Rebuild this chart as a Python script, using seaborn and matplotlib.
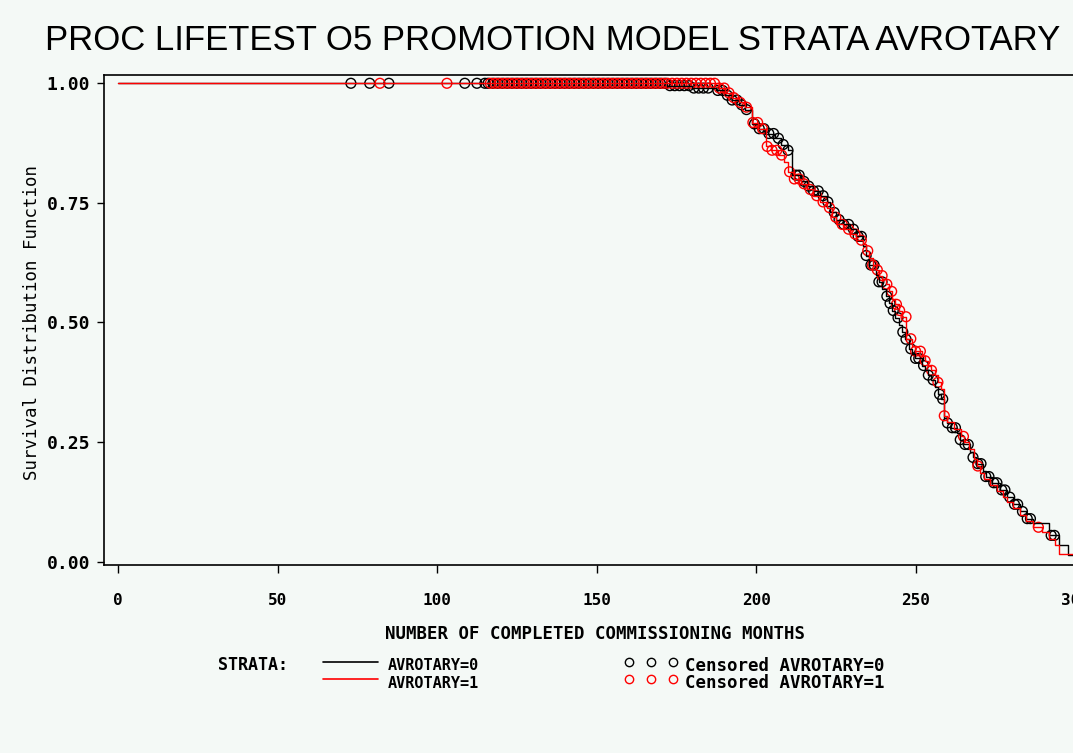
import matplotlib
matplotlib.use('Agg')
import matplotlib.pyplot as plt
from matplotlib.lines import Line2D
import seaborn as sns
import numpy as np
import pandas as pd

# Kaplan-Meier steps: event time (months) and survival after it
t0 = [0, 172, 180, 187.4, 190.4, 192.5, 194.5, 196.6, 198.6, 200.7, 202.7, 205.8, 207.8, 209.9,
      211.4, 214, 216, 218, 220, 222.2, 223.2, 225.2, 227.3, 229.3, 231.4, 233.4, 234.5, 235.5,
      237.5, 238.5, 239.6, 240.6, 241.6, 242.6, 243.7, 244.7, 245.7, 246.7, 247.8, 248.8, 249.8,
      251.9, 252.9, 253.9, 254.9, 256, 257, 258, 259, 260, 261, 263, 264, 265, 267, 268, 269, 271,
      272, 274, 276.4, 278.5, 280.5, 282.6, 284.6, 286.7, 291.8, 294.9, 297.9, 312]
s0 = [1.0, 0.995, 0.99, 0.985, 0.975, 0.965, 0.955, 0.945, 0.915, 0.905, 0.895, 0.885, 0.872, 0.86,
      0.808, 0.795, 0.785, 0.775, 0.765, 0.752, 0.73, 0.715, 0.705, 0.695, 0.68, 0.66, 0.64, 0.62,
      0.6, 0.585, 0.57, 0.555, 0.54, 0.525, 0.51, 0.495, 0.48, 0.465, 0.445, 0.435, 0.425, 0.41, 0.4,
      0.39, 0.38, 0.365, 0.35, 0.34, 0.3, 0.29, 0.28, 0.27, 0.255, 0.245, 0.23, 0.218, 0.205, 0.19,
      0.178, 0.165, 0.15, 0.135, 0.12, 0.105, 0.09, 0.08, 0.055, 0.035, 0.015, 0.015]

t1 = [0, 188.4, 190.4, 192.5, 194.5, 196.6, 198.6, 200.7, 203.2, 204.8, 206.8, 208.9, 209.9, 211.9,
      214, 216, 218, 220, 222.2, 223.7, 225.2, 227.3, 229.3, 231.4, 233.4, 234.5, 235.5, 236.5,
      237.5, 238.5, 239.6, 240.6, 241.6, 242.6, 243.7, 244.7, 245.7, 247.1, 248.8, 249.8, 251.9,
      252.9, 253.9, 254.9, 256, 257, 258, 259, 260, 262.1, 264.1, 265.2, 266.7, 268.2, 269.3, 270.3,
      271.3, 273.4, 275.4, 277.5, 278.5, 280.5, 282.6, 284.6, 286.7, 289.7, 291.8, 293.8, 294.9, 312]
s1 = [1.0, 0.99, 0.98, 0.97, 0.96, 0.95, 0.918, 0.905, 0.868, 0.86, 0.85, 0.835, 0.815, 0.8, 0.79,
      0.778, 0.765, 0.752, 0.74, 0.72, 0.705, 0.695, 0.685, 0.672, 0.665, 0.65, 0.635, 0.62, 0.61,
      0.598, 0.59, 0.58, 0.565, 0.55, 0.538, 0.525, 0.512, 0.466, 0.45, 0.44, 0.43, 0.42, 0.41, 0.4,
      0.39, 0.375, 0.36, 0.305, 0.292, 0.278, 0.262, 0.25, 0.235, 0.215, 0.2, 0.185, 0.172, 0.16,
      0.148, 0.135, 0.125, 0.112, 0.098, 0.085, 0.072, 0.062, 0.048, 0.035, 0.017, 0.017]

# censored times
c0 = [73, 78.9, 84.9, 108.7, 112.5, 115,
      116, 117.5, 119, 120.5, 122, 123.5, 125, 126.5, 128, 129.5, 131, 132.5, 134, 135.5, 137, 138.5,
      140, 141.5, 143, 144.5, 146, 147.5, 149, 150.5, 152, 153.5, 155, 156.5, 158, 159.5, 161, 162.5,
      164, 165.5, 167, 168.5, 170, 171.5, 173, 174.5, 176, 177.5, 179, 180.5, 182, 183.5, 185,
      188, 189.5, 191, 192.5, 194, 195.5, 197, 199.5, 201, 202.5, 204, 205.5, 207, 208.5, 210, 212.5,
      213.5, 215, 216.5, 218, 219.5, 221, 222.5, 224.5, 226, 227.5, 229, 230.5, 232, 233, 234.5, 236,
      237, 238.5, 239.5, 241, 242, 243, 244.5, 246, 247, 248.5, 250, 251, 252.5, 254, 255.5, 257.5,
      258.5, 260, 261.5, 262.5, 264, 265.5, 266.5, 268, 269.5, 270.5, 272, 273, 274.5, 275.5, 277,
      278, 279.5, 281, 282, 283.5, 285, 286, 292.5, 293.5]
c1 = [82.1, 103.1,
      116.7, 118.2, 119.7, 121.2, 122.7, 124.2, 125.7, 127.2, 128.7, 130.2, 131.7, 133.2, 134.7,
      136.2, 137.7, 139.2, 140.7, 142.2, 143.7, 145.2, 146.7, 148.2, 149.7, 151.2, 152.7, 154.2,
      155.7, 157.2, 158.7, 160.2, 161.7, 163.2, 164.7, 166.2, 167.7, 169.2, 170.7, 172.2, 173.7,
      175.2, 176.7, 178.2, 179.7, 181.2, 182.7, 184.2, 185.7, 187,
      188.5, 190, 191.5, 193, 195, 197, 199, 200.5, 202, 203.5, 205, 206.5, 208, 210.5, 212, 213.5,
      215, 217, 219, 221, 223, 225, 227, 229, 231, 233, 235, 236.5, 238, 239.5, 241, 242.5, 244, 245,
      247, 248.5, 250, 251.5, 253, 255, 257, 259, 265, 269.5, 288.5]

xticks = [0, 50, 100, 150, 200, 250, 300]
yticks = [0.0, 0.25, 0.5, 0.75, 1.0]


def surv_at(times, t, s):
    # value of the step curve at each censored time
    idx = np.searchsorted(t, times, side='right') - 1
    return np.array(s)[idx]


curves = pd.concat([
    pd.DataFrame({'month': t0, 'surv': s0, 'strata': '0'}),
    pd.DataFrame({'month': t1, 'surv': s1, 'strata': '1'}),
])
cens0 = pd.DataFrame({'month': c0, 'surv': surv_at(c0, t0, s0)})
cens1 = pd.DataFrame({'month': c1, 'surv': surv_at(c1, t1, s1)})

bg = '#f4f9f6'
sns.set_style('ticks', rc={'axes.facecolor': bg, 'figure.facecolor': bg,
                           'axes.edgecolor': 'black', 'xtick.color': 'black',
                           'ytick.color': 'black', 'text.color': 'black'})
mono = ['DejaVu Sans Mono']

W, H = 1073, 753
fig = plt.figure(figsize=(W / 100, H / 100), dpi=100)
ax = fig.add_axes([104 / W, 188 / H, (1107 - 104) / W, (565 - 75) / H])

sns.lineplot(data=curves, x='month', y='surv', hue='strata', palette={'0': 'black', '1': 'red'},
             estimator=None, sort=False, drawstyle='steps-post', lw=1.0, legend=False, ax=ax)
sns.scatterplot(data=cens0, x='month', y='surv', marker='o', s=50, facecolor='none',
                edgecolor='black', linewidth=1.0, legend=False, ax=ax)
sns.scatterplot(data=cens1, x='month', y='surv', marker='o', s=50, facecolor='none',
                edgecolor='red', linewidth=1.0, legend=False, ax=ax)

ax.set_xlim(-4.39, 310)
ax.set_ylim(-0.0069, 1.0173)
ax.set_xticks(xticks)
ax.set_yticks(yticks)
ax.set_xticklabels([str(v) for v in xticks], family=mono, weight='bold', fontsize=11.5,
                   color='black')
ax.set_yticklabels(['%.2f' % v for v in yticks], family=mono, weight='bold', fontsize=13,
                   color='black')
ax.tick_params(axis='x', length=6, width=1, pad=14, colors='black')
ax.tick_params(axis='y', length=5, width=1, pad=5, colors='black')
ax.set_xlabel('')
ax.set_ylabel('')
for sp in ax.spines.values():
    sp.set_linewidth(1.2)
    sp.set_color('black')

fig.text(553 / W, 1 - 40 / H, 'PROC LIFETEST O5 PROMOTION MODEL STRATA AVROTARY',
         ha='center', va='center', fontsize=25, color='black',
         family=['Liberation Sans Narrow', 'Liberation Sans'])
fig.text(595 / W, 1 - 634 / H, 'NUMBER OF COMPLETED COMMISSIONING MONTHS',
         ha='center', va='center', fontsize=12.5, family=mono, weight='bold', color='black')
fig.text(32 / W, 1 - 322 / H, 'Survival Distribution Function', rotation=90,
         ha='center', va='center', fontsize=12.5, family=mono, color='black')

# legend block under the axis
fig.text(218 / W, 1 - 665 / H, 'STRATA:', ha='left', va='center', fontsize=12,
         family=mono, weight='bold', color='black')
for yy, col, lab in [(662, 'black', '0'), (679, 'red', '1')]:
    fig.add_artist(Line2D([323 / W, 378 / W], [1 - yy / H, 1 - yy / H], color=col, lw=1.2,
                          transform=fig.transFigure))
    fig.text(388 / W, 1 - (yy + 4) / H, 'AVROTARY=' + lab, ha='left', va='center',
             fontsize=11, family=mono, weight='bold', color='black')
    fig.add_artist(Line2D([629 / W, 651 / W, 673 / W], [1 - yy / H] * 3, color=col, lw=0,
                          marker='o', ms=6, mfc='none', mec=col, mew=1.0,
                          transform=fig.transFigure))
    fig.text(685 / W, 1 - (yy + 4) / H, 'Censored AVROTARY=' + lab, ha='left', va='center',
             fontsize=12.5, family=mono, weight='bold', color='black')

fig.savefig('out.png', dpi=100, facecolor=bg)
